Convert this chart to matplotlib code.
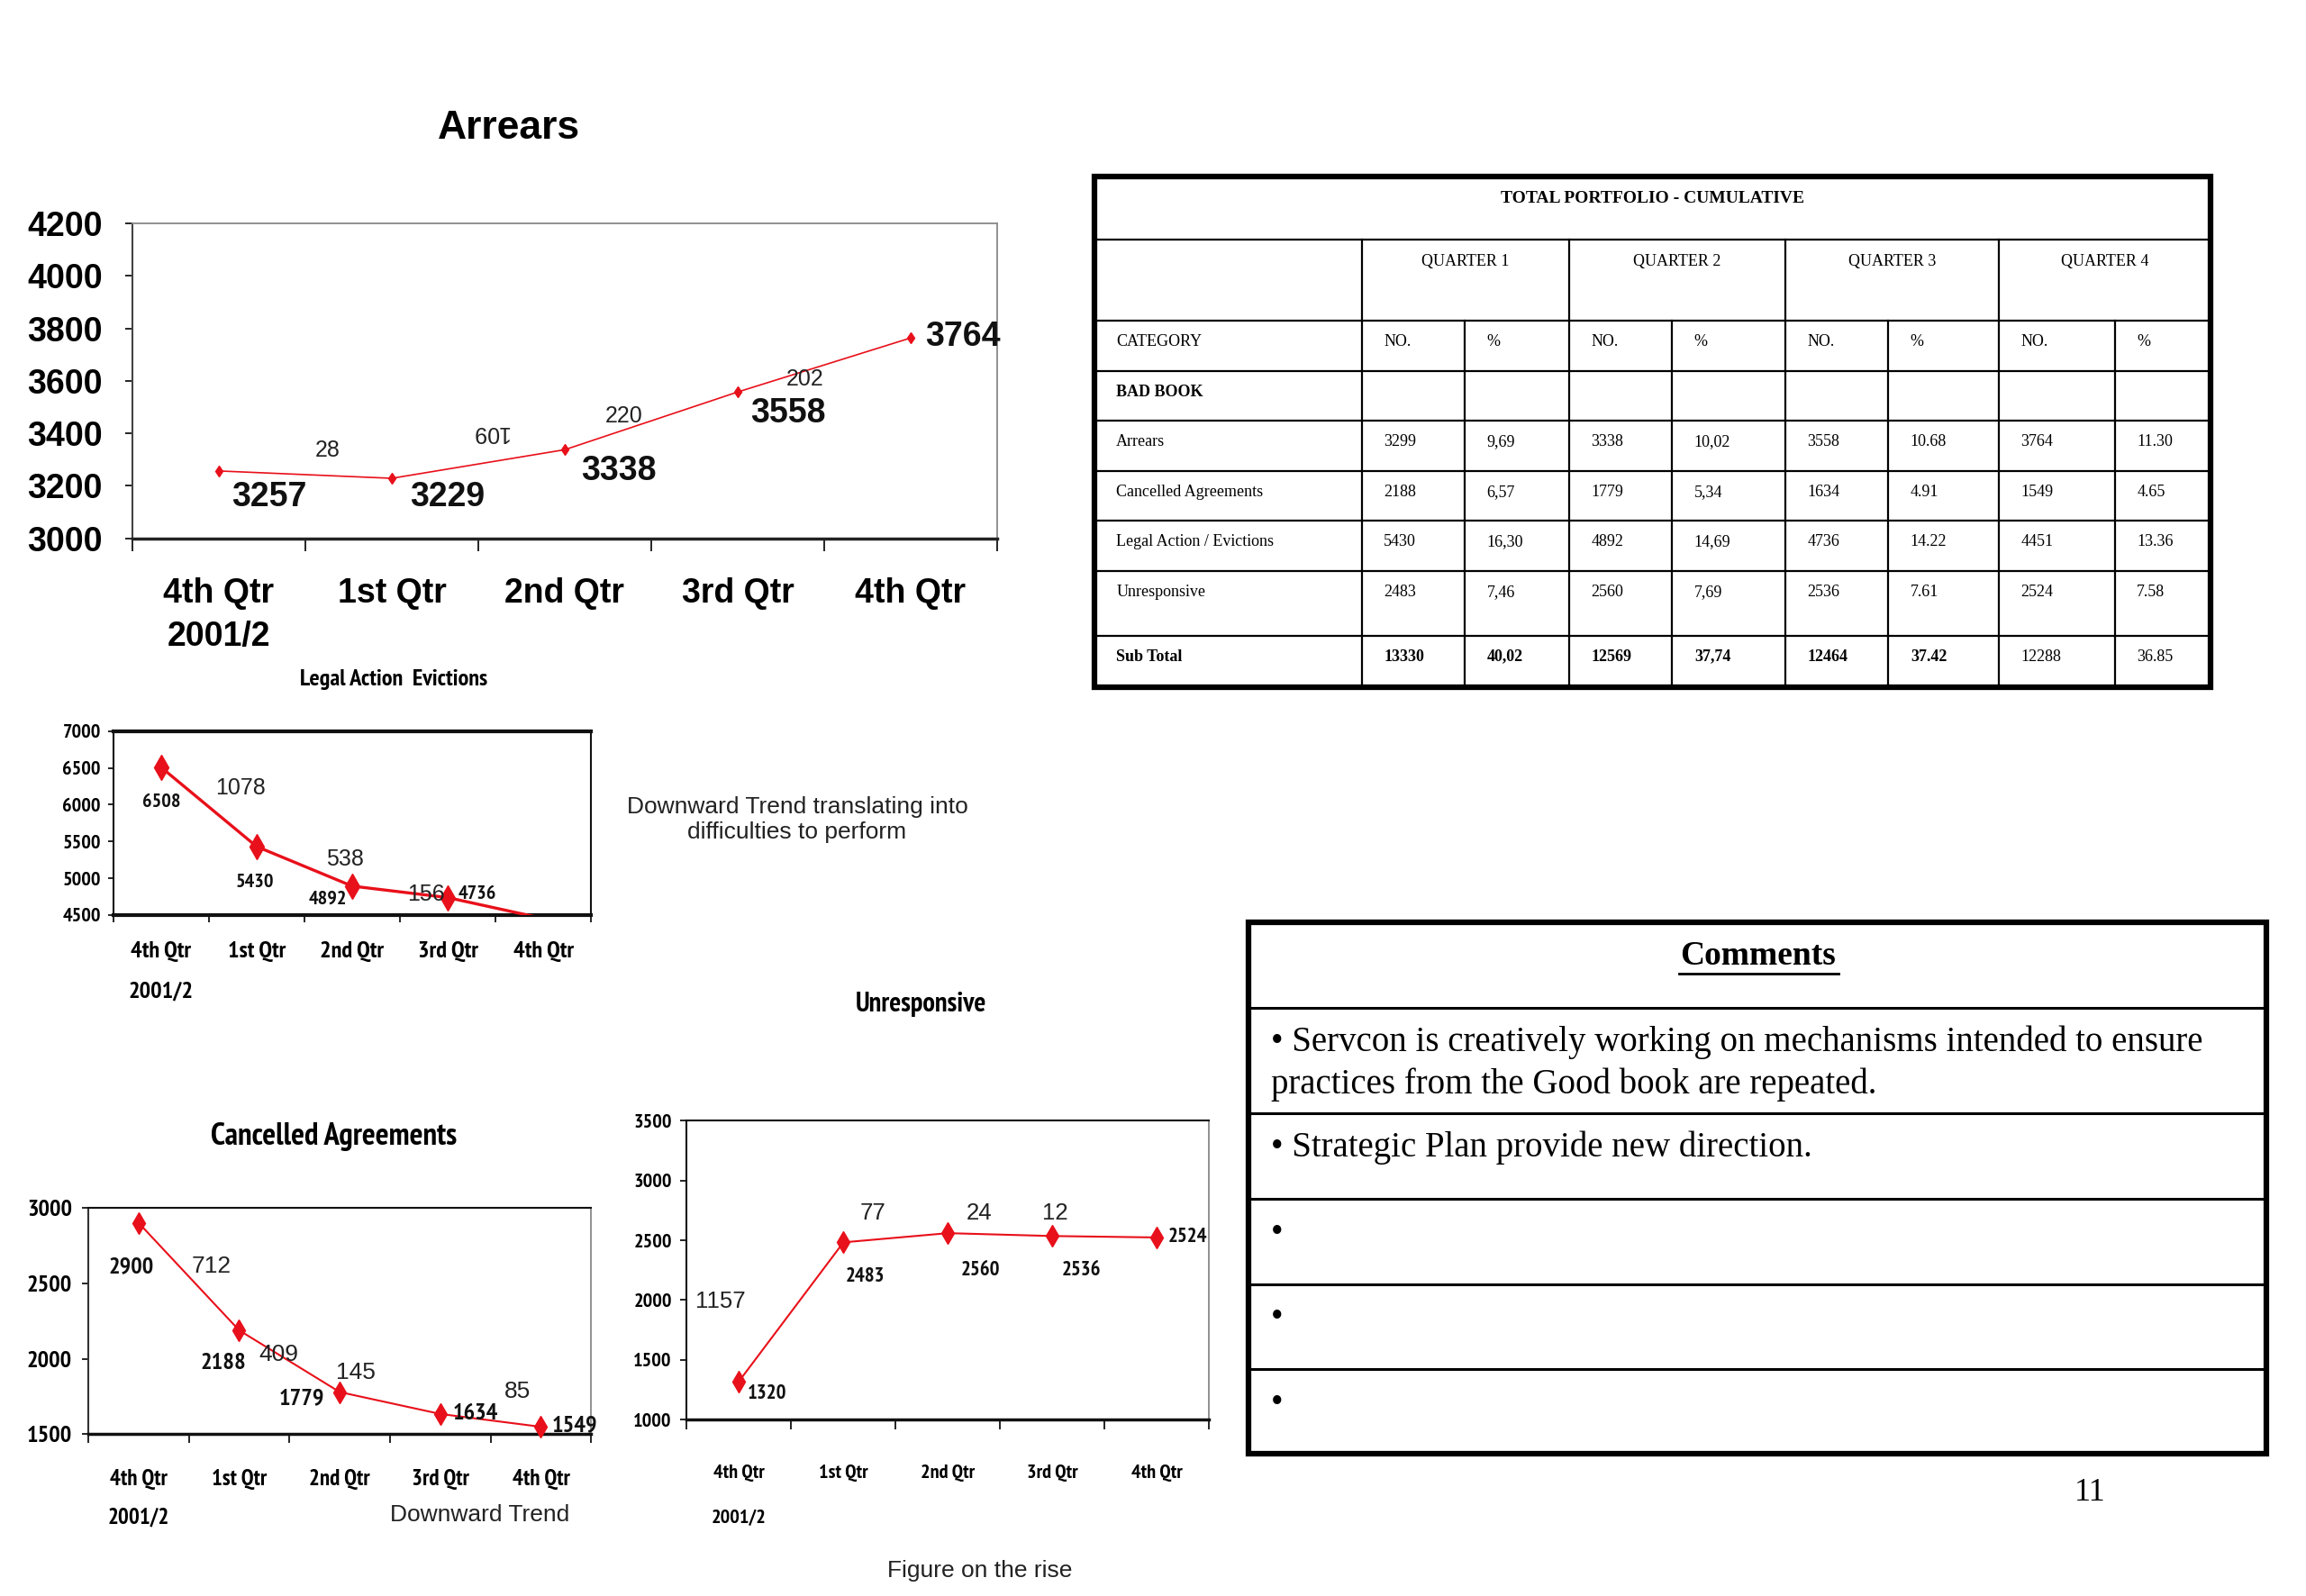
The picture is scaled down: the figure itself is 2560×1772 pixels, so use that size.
import numpy as np
import matplotlib
matplotlib.use('Agg')
import matplotlib.pyplot as plt
from matplotlib import font_manager
from matplotlib.font_manager import FontProperties
from matplotlib.patches import Rectangle

SANS = 'Liberation Sans'
SERIF = 'Liberation Serif'
RED = '#e8101a'

# look for a narrow / condensed bold face (Arial Narrow look-alike)
narrow_faces = [f for f in font_manager.fontManager.ttflist
                if 'Narrow' in f.name or 'Condensed' in f.name
                or str(f.stretch) in ('condensed', 'semi-condensed', 'extra-condensed', 'ultra-condensed')]
narrow_faces.sort(key=lambda f: (0 if 'Narrow' in f.name else 1,
                                 0 if str(f.weight) in ('bold', '700', 'semibold', '600') else 1,
                                 0 if f.style == 'normal' else 1))
NARROW_PATH = narrow_faces[0].fname if narrow_faces else None


def nfont(size):
    if NARROW_PATH:
        return FontProperties(fname=NARROW_PATH, size=size)
    return FontProperties(family=SANS, weight='bold', size=size)


def sfont(size, bold=True):
    return FontProperties(family=SANS, weight='bold' if bold else 'normal', size=size)


# ---- data ----
quarters = ['4th Qtr\n2001/2', '1st Qtr', '2nd Qtr', '3rd Qtr', '4th Qtr']

arrears = [3257, 3229, 3338, 3558, 3764]
arrears_delta = ['28', '109', '220', '202']
legal = [6508, 5430, 4892, 4736, 4451]
legal_delta = ['1078', '538', '156']
cancelled = [2900, 2188, 1779, 1634, 1549]
cancelled_delta = ['712', '409', '145', '85']
unresp = [1320, 2483, 2560, 2536, 2524]
unresp_delta = ['1157', '77', '24', '12']

tab_quarters = ['QUARTER 1', 'QUARTER 2', 'QUARTER 3', 'QUARTER 4']
tab_categories = ['Arrears', 'Cancelled Agreements', 'Legal Action / Evictions', 'Unresponsive']
tab_no = [[3299, 3338, 3558, 3764],
          [2188, 1779, 1634, 1549],
          [5430, 4892, 4736, 4451],
          [2483, 2560, 2536, 2524]]
tab_pct = [['9,69', '10,02', '10.68', '11.30'],
           ['6,57', '5,34', '4.91', '4.65'],
           ['16,30', '14,69', '14.22', '13.36'],
           ['7,46', '7,69', '7.61', '7.58']]
sub_no = ['13330', '12569', '12464', '12288']
sub_pct = ['40,02', '37,74', '37.42', '36.85']

comments = ['Servcon is creatively working on mechanisms intended to ensure\npractices from the Good book are repeated.',
            'Strategic Plan provide new direction.', '', '', '']

# ---- layout (grid of the reference preview) ----
W, H = 1568, 1085
fig = plt.figure(figsize=(25.6, 17.72), dpi=100)
ov = fig.add_axes([0, 0, 1, 1])
ov.set_xlim(0, W)
ov.set_ylim(H, 0)
ov.axis('off')


def box(l, t, r, b):
    return [l / W, 1 - b / H, (r - l) / W, (b - t) / H]


def chart(rect, vals, ylim, ystep, c):
    ax = fig.add_axes(box(*rect))
    x = np.arange(len(vals))
    ax.plot(x, vals, color=RED, lw=c['lw'], marker='d', ms=c['ms'],
            markevery=c.get('markevery'), clip_on=c.get('clip', False), zorder=3)
    ax.set_xlim(-0.5, len(vals) - 0.5)
    ax.set_ylim(*ylim)
    yt = np.arange(ylim[0], ylim[1] + 1, ystep)
    ax.set_yticks(yt, labels=[str(v) for v in yt], fontproperties=c['tfont'](c['ytsize']))
    ax.set_xticks(np.arange(-0.5, len(vals)), labels=[])
    ax.set_xticks(x, labels=quarters, minor=True, fontproperties=c['tfont'](c['xtsize']),
                  linespacing=c['ls'])
    ax.tick_params(axis='y', direction='out', length=c['ytlen'], width=1.2, pad=c['ypad'])
    ax.tick_params(axis='x', which='major', direction='out', length=c['xtlen'], width=1.2)
    ax.tick_params(axis='x', which='minor', length=0, pad=c['xpad'])
    for side, (col, lw) in c['spines'].items():
        ax.spines[side].set_color(col)
        ax.spines[side].set_linewidth(lw)
    # value labels
    for i, (dx, dy) in enumerate(c['vlab']):
        ax.text(i + dx, vals[i] + dy, str(vals[i]), ha='center', va='center',
                fontproperties=c['tfont'](c['vsize']), color='#111')
    # change labels
    for txt, (px, py), rot in zip(c['dlab'], c['dpos'], c.get('drot', [0] * 5)):
        ax.text(px, py, txt, ha='center', va='center', fontsize=c['dsize'],
                fontfamily=SANS, color='#222', rotation=rot)
    return ax


# Arrears
chart((90, 152, 678, 366), arrears, (3000, 4200), 200, dict(
    lw=1.2, ms=6, tfont=sfont, ytsize=27, xtsize=27, ls=1.45, ytlen=6, xtlen=10, ypad=18, xpad=31,
    spines={'left': ('#444', 1.5), 'bottom': ('#222', 2.5), 'top': ('#888', 1.3), 'right': ('#888', 1.3)},
    vlab=[(0.29, -100), (0.32, -72), (0.31, -80), (0.29, -81), (0.30, 4)],
    vsize=27,
    dlab=arrears_delta, dpos=[(0.63, 3336), (1.57, 3404), (2.34, 3465), (3.39, 3606)],
    drot=[0, 180, 0, 0], dsize=18))
ov.text(132, 188, '3.2 Bad Book', ha='left', va='center', fontsize=38,
        fontfamily=SERIF, fontweight='bold')
ov.text(522, 222, 'Upward Trend', ha='center', va='center', fontsize=18, fontfamily=SANS, color='#222')
ov.text(346, 87, 'Arrears', ha='center', va='center', fontsize=32, fontfamily=SANS, fontweight='bold')

# Legal Action Evictions
chart((77, 497, 402, 622), legal, (4500, 7000), 500, dict(
    lw=2.4, ms=14, markevery=[0, 1, 2, 3], clip=True, tfont=nfont, ytsize=16, xtsize=19, ls=2.18,
    ytlen=4, xtlen=6, ypad=6, xpad=21,
    spines={'left': ('#111', 1.5), 'bottom': ('#111', 3.0), 'top': ('#111', 3.0), 'right': ('#111', 1.5)},
    vlab=[(0.0, -468), (-0.02, -490), (-0.26, -172), (0.31, 44)],
    vsize=16,
    dlab=legal_delta, dpos=[(0.83, 6220), (1.92, 5260), (2.77, 4780)], dsize=18))
ov.text(268, 462, 'Legal Action  Evictions', ha='center', va='center', fontproperties=nfont(19))
ov.text(542, 557, 'Downward Trend translating into\ndifficulties to perform', ha='center', va='center',
        fontsize=19, fontfamily=SANS, linespacing=1.2, color='#222')

# Cancelled Agreements
chart((60, 821, 402, 975), cancelled, (1500, 3000), 500, dict(
    lw=1.5, ms=12, tfont=nfont, ytsize=19, xtsize=18, ls=2.05, ytlen=5, xtlen=7, ypad=8, xpad=28,
    spines={'left': ('#333', 1.5), 'bottom': ('#111', 2.5), 'top': ('#111', 1.5), 'right': ('#888', 1.3)},
    vlab=[(-0.07, -290), (-0.16, -220), (-0.38, -45), (0.35, 2), (0.34, 9)],
    vsize=19,
    dlab=cancelled_delta, dpos=[(0.72, 2610), (1.39, 2026), (2.16, 1909), (3.77, 1783)], dsize=19))
ov.text(227, 773, 'Cancelled Agreements', ha='center', va='center', fontproperties=nfont(25))
ov.text(326, 1030, 'Downward Trend', ha='center', va='center', fontsize=19, fontfamily=SANS, color='#222')

# Unresponsive
chart((467, 762, 822, 965), unresp, (1000, 3500), 500, dict(
    lw=1.5, ms=12, tfont=nfont, ytsize=16, xtsize=16, ls=3.05, ytlen=5, xtlen=8, ypad=7, xpad=36,
    spines={'left': ('#111', 1.5), 'bottom': ('#111', 2.5), 'top': ('#111', 1.5), 'right': ('#888', 1.3)},
    vlab=[(0.27, -108), (0.21, -287), (0.31, -315), (0.28, -291), (0.30, 4)],
    vsize=16.5,
    dlab=unresp_delta, dpos=[(-0.18, 1987), (1.28, 2725), (2.30, 2725), (3.03, 2725)], dsize=18.5))
ov.text(626, 683, 'Unresponsive', ha='center', va='center', fontproperties=nfont(22))
ov.text(666, 1068, 'Figure on the rise', ha='center', va='center', fontsize=19, fontfamily=SANS, color='#222')

# ---- table ----
cols = [744, 926, 996, 1067, 1137, 1214, 1284, 1359, 1438, 1503]
rows = [120, 163, 218, 252, 286, 320, 354, 388, 432, 467]
ov.add_patch(Rectangle((cols[0], rows[0]), cols[-1] - cols[0], rows[-1] - rows[0],
                       fill=False, lw=4.5, ec='black', zorder=4))
for y in rows[1:-1]:
    ov.plot([cols[0], cols[-1]], [y, y], color='black', lw=1.6)
for xc in cols[1:-1:2]:
    ov.plot([xc, xc], [rows[1], rows[-1]], color='black', lw=1.6)
for xc in cols[2:-1:2]:
    ov.plot([xc, xc], [rows[2], rows[-1]], color='black', lw=1.6)

tsz = 13
ov.text((cols[0] + cols[-1]) / 2, rows[0] + 15, 'TOTAL PORTFOLIO - CUMULATIVE', ha='center', va='center',
        fontsize=14, fontfamily=SERIF, fontweight='bold')
for q, name in enumerate(tab_quarters):
    ov.text((cols[1 + 2 * q] + cols[3 + 2 * q]) / 2, rows[1] + 15, name, ha='center', va='center',
            fontsize=tsz, fontfamily=SERIF)


def cell(c, r, txt, bold=False):
    ov.text(cols[c] + 15, rows[r] + 14.5, txt, ha='left', va='center', fontsize=tsz,
            fontfamily=SERIF, fontweight='bold' if bold else 'normal')


cell(0, 2, 'CATEGORY')
for q in range(4):
    cell(1 + 2 * q, 2, 'NO.')
    cell(2 + 2 * q, 2, '%')
cell(0, 3, 'BAD BOOK', bold=True)
for r, cat in enumerate(tab_categories):
    cell(0, 4 + r, cat)
    for q in range(4):
        cell(1 + 2 * q, 4 + r, str(tab_no[r][q]))
        cell(2 + 2 * q, 4 + r, tab_pct[r][q])
cell(0, 8, 'Sub Total', bold=True)
for q in range(4):
    cell(1 + 2 * q, 8, sub_no[q], bold=q < 3)
    cell(2 + 2 * q, 8, sub_pct[q], bold=q < 3)

# ---- comments box ----
cm_rows = [627, 685, 757, 815, 873, 931, 988]
cl, cr = 849, 1541
ov.add_patch(Rectangle((cl, cm_rows[0]), cr - cl, cm_rows[-1] - cm_rows[0],
                       fill=False, lw=4.5, ec='black', zorder=4))
for y in cm_rows[1:-1]:
    ov.plot([cl, cr], [y, y], color='black', lw=2.2)
ov.text((cl + cr) / 2, 650, 'Comments', ha='center', va='center', fontsize=27,
        fontfamily=SERIF, fontweight='bold')
ov.plot([1142, 1250], [662, 662], color='black', lw=2)
for i, item in enumerate(comments):
    ov.text(864, cm_rows[1 + i] + 12, '\u2022 ' + item if item else '\u2022', ha='left', va='top',
            fontsize=28, fontfamily=SERIF, linespacing=1.34)

ov.text(1421, 1015, '11', ha='center', va='center', fontsize=26, fontfamily=SERIF)

fig.savefig('out.png', dpi=100)
